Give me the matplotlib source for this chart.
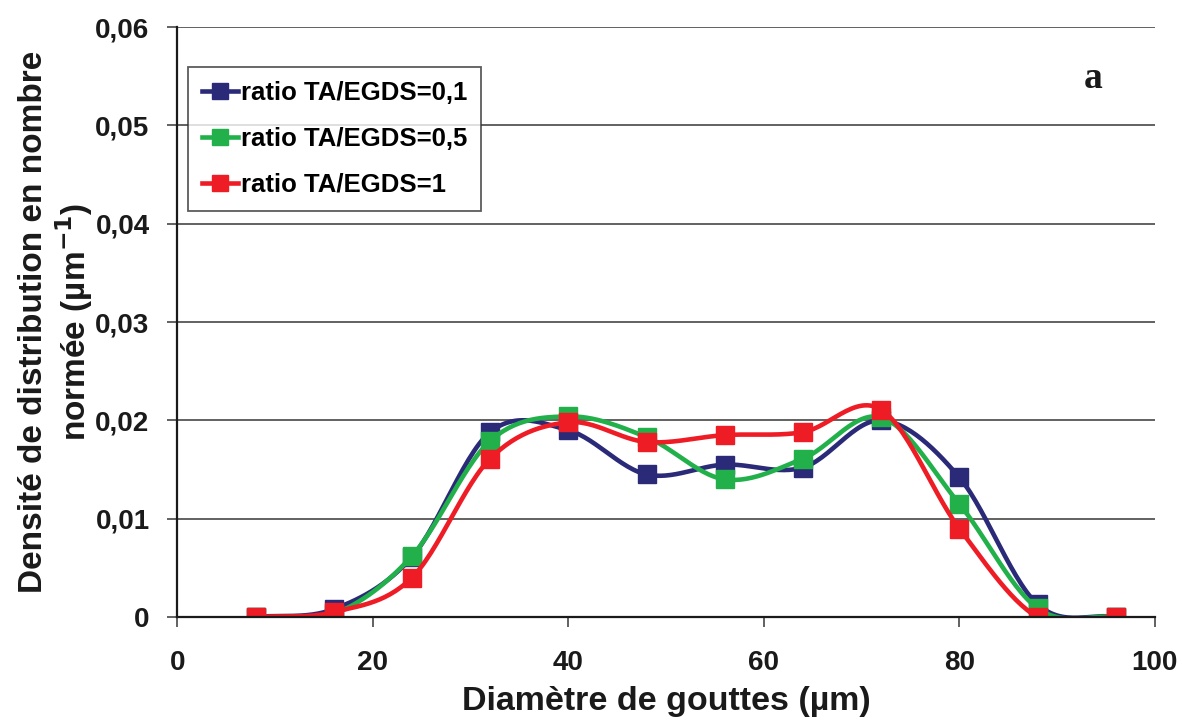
import numpy as np
import matplotlib
matplotlib.use('Agg')
import matplotlib.pyplot as plt
from matplotlib.ticker import FuncFormatter

diam = [8, 16, 24, 32, 40, 48, 56, 64, 72, 80, 88, 96]
r01 = [0, 0.0008, 0.0061, 0.0188, 0.0190, 0.0145, 0.0155, 0.0152, 0.0200, 0.0142, 0.0013, 0]
r05 = [0, 0.0003, 0.0062, 0.0179, 0.0204, 0.0183, 0.0140, 0.0161, 0.0203, 0.0115, 0.0009, 0]
r1 = [0, 0.0005, 0.0040, 0.0161, 0.0198, 0.0178, 0.0185, 0.0188, 0.0211, 0.0090, 0, 0]
labels = ['ratio TA/EGDS=0,1', 'ratio TA/EGDS=0,5', 'ratio TA/EGDS=1']
colors = ['#2B2A78', '#22B04B', '#EE1C25']

def smooth(x, y, n=30):
    # catmull-rom like excel smoothed line
    x = np.asarray(x, float); y = np.asarray(y, float)
    px = np.concatenate([[2*x[0]-x[1]], x, [2*x[-1]-x[-2]]])
    py = np.concatenate([[2*y[0]-y[1]], y, [2*y[-1]-y[-2]]])
    xs, ys = [], []
    t = np.linspace(0, 1, n)
    for i in range(1, len(px)-2):
        for p, out in ((px, xs), (py, ys)):
            p0, p1, p2, p3 = p[i-1], p[i], p[i+1], p[i+2]
            out.append(0.5*((2*p1) + (-p0+p2)*t + (2*p0-5*p1+4*p2-p3)*t**2 + (-p0+3*p1-3*p2+p3)*t**3))
    return np.concatenate(xs), np.concatenate(ys)

plt.rcParams['font.family'] = ['Liberation Sans', 'DejaVu Sans']
plt.rcParams['font.weight'] = 'bold'

fig = plt.figure(figsize=(11.82, 7.2), dpi=100)
ax = fig.add_axes([0.150, 0.143, 0.827, 0.8195])

for ys, lab, c in zip([r01, r05, r1], labels, colors):
    sx, sy = smooth(diam, ys)
    ax.plot(sx, sy, '-', color=c, lw=3.3)
    ax.plot(diam, ys, 's', color=c, ms=13.5)
    ax.plot([], [], '-s', color=c, lw=3.3, ms=11, label=lab)

ax.set_xlim(0, 100)
ax.set_ylim(0, 0.06)
ax.set_xticks(range(0, 101, 20))
ax.set_yticks(np.arange(0, 0.0601, 0.01))
ax.yaxis.set_major_formatter(FuncFormatter(lambda v, p: '0' if abs(v) < 1e-9 else ('%.2f' % v).replace('.', ',')))
ax.grid(axis='y', color='#555555', lw=1.3)
ax.set_axisbelow(True)
for s in ['top', 'right']:
    ax.spines[s].set_visible(False)
for s in ['left', 'bottom']:
    ax.spines[s].set_color('#1a1a1a')
    ax.spines[s].set_linewidth(1.6)
ax.tick_params(direction='out', length=7, width=1.3, color='#555555', labelsize=20)
ax.tick_params(axis='x', pad=17)
ax.tick_params(axis='y', pad=13)
for t in ax.get_xticklabels() + ax.get_yticklabels():
    t.set_fontweight('bold')
    t.set_color('#1a1a1a')

ax.set_xlabel('Diamètre de gouttes (µm)', fontsize=24.5, fontweight='bold', labelpad=7, color='#1a1a1a')
ax.set_ylabel('Densité de distribution en nombre\nnormée (µm$^{\\mathbf{-1}}$)', fontsize=24,
              fontweight='bold', linespacing=1.13, color='#1a1a1a')
ax.yaxis.set_label_coords(-0.084, 0.5)

leg = ax.legend(loc='upper left', bbox_to_anchor=(0.011, 0.933), frameon=True,
                fancybox=False, handlelength=1.4, handletextpad=0.1, borderpad=0.55,
                labelspacing=0.86, borderaxespad=0, prop={'weight': 'bold', 'size': 18.5})
leg.get_frame().set_edgecolor('#333333')
leg.get_frame().set_linewidth(1.3)

ax.text(0.937, 0.913, 'a', transform=ax.transAxes, fontsize=27, fontweight='bold',
        family='Liberation Serif', ha='center', va='center', color='#1a1a1a')

fig.savefig('out.png', dpi=100)
